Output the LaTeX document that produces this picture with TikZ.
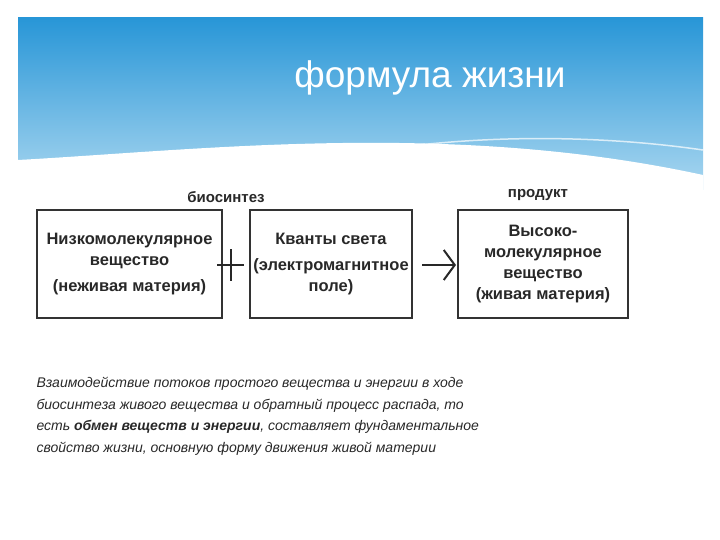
\documentclass[tikz,border=0pt]{standalone}
\usepackage{fontspec}
\setmainfont{Liberation Sans}
\usetikzlibrary{positioning,arrows.meta}
\definecolor{skyblue}{RGB}{40,150,215}
\definecolor{skylight}{RGB}{170,215,240}
\definecolor{boxtext}{RGB}{40,40,40}
\tikzset{
  matbox/.style={draw=black!80, line width=1.8pt, minimum height=108pt, align=center, text=boxtext, font=\fontsize{16.5}{21}\selectfont\bfseries},
  toplabel/.style={text=boxtext, font=\fontsize{15}{17}\selectfont\bfseries}
}
\begin{document}
\begin{tikzpicture}[x=1pt,y=-1pt]
\useasboundingbox (0,0) rectangle (720,540);
% header
\shade[top color=skyblue, bottom color=skylight] (18,18) rectangle (703,190);
\fill[white] (18,160) .. controls (200,150) and (450,120) .. (703,175) -- (703,190) -- (18,190) -- cycle;
\draw[white, line width=1.5pt, opacity=.7] (300,165) .. controls (450,130) and (600,135) .. (703,150);
\fill[white] (180,180) rectangle (632,330);
\node[text=white, font=\fontsize{37}{42}\selectfont] (title) at (430,78) {формула жизни};
% diagram
\node[matbox, minimum width=185pt] (low) at (129.5,264) {Низкомолекулярное\\вещество\\[5pt](неживая материя)};
\node[matbox, minimum width=162pt] (light) at (331,264) {Кванты света\\[5pt](электромагнитное\\поле)};
\node[matbox, minimum width=170pt] (high) at (543,264) {Высоко-\\молекулярное\\вещество\\(живая материя)};
\coordinate (plusL) at (217,265);
\coordinate (plusR) at (244,265);
\coordinate (plusT) at (230.5,249);
\coordinate (plusB) at (230.5,281);
\draw[line width=2pt, boxtext] (plusL) -- (plusR) (plusT) -- (plusB);
\coordinate (arrA) at (422,265);
\coordinate (arrB) at (456,265);
\draw[line width=2pt, boxtext, -{Straight Barb[length=11pt,width=30pt,line width=2pt]}] (arrA) -- (arrB);
\node[toplabel] (bio) at (226,197) {биосинтез};
\node[toplabel] (prod) at (538,195) {продукт};
% caption
\node[anchor=north west, align=left, text=boxtext, font=\fontsize{14}{21.5}\selectfont\itshape] (caption) at (33,374)
  {Взаимодействие потоков простого вещества и энергии в ходе\\
   биосинтеза живого вещества и обратный процесс распада, то\\
   есть \textbf{обмен веществ и энергии}, составляет фундаментальное\\
   свойство жизни, основную форму движения живой материи};
\end{tikzpicture}
\end{document}
